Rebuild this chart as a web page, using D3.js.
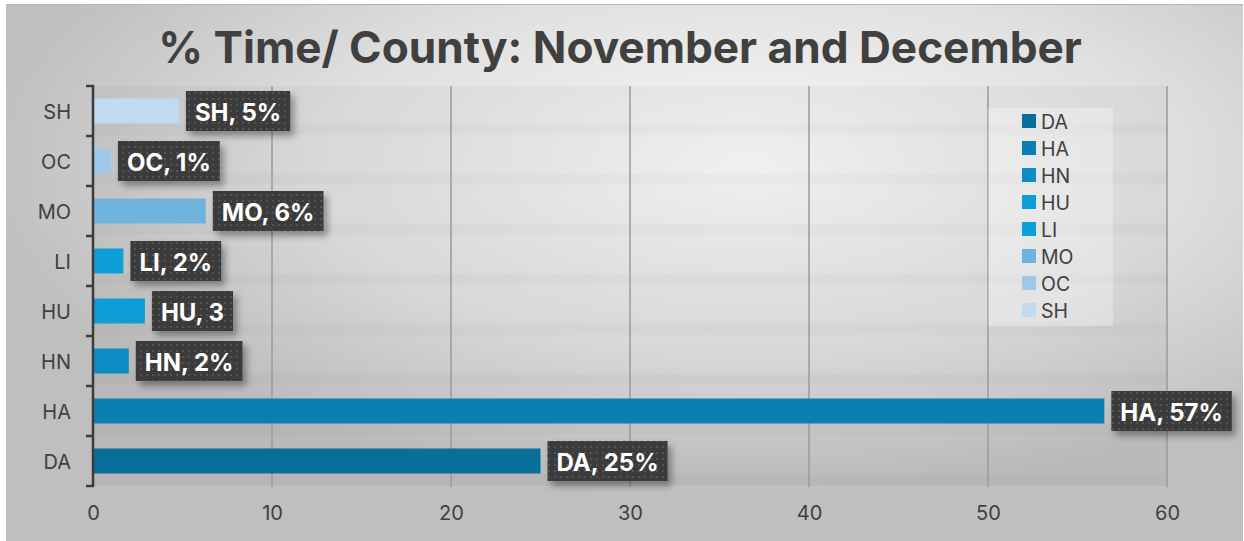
<!DOCTYPE html>
<html>
<head>
<meta charset="utf-8">
<script src="https://cdn.jsdelivr.net/npm/d3@7"></script>
<style>
  html, body { margin: 0; padding: 0; background: #fff; }
  svg { display: block; }
</style>
</head>
<body>
<svg id="chart" width="1244" height="541"></svg>
<script>
// Share of time spent per county, November and December
const categories = ["DA", "HA", "HN", "HU", "LI", "MO", "OC", "SH"];
const values     = [25, 56.5, 2, 2.9, 1.7, 6.3, 1, 4.8];
const suffixes   = ["%", "%", "%", "", "%", "%", "%", "%"];
const colors     = ["#076f98", "#0a80b0", "#0c8cc3", "#0e9dd7", "#0e9ed8", "#70b2de", "#a0c8e9", "#c1daee"];
const xTicks     = [0, 10, 20, 30, 40, 50, 60];
const titleText  = "% Time/ County: November and December";

const FONT = "Inter, 'Noto Sans', sans-serif";
const svg = d3.select("#chart");
const W = 1244, H = 541;
const defs = svg.append("defs");

// panel background: soft radial light
const bg = defs.append("radialGradient").attr("id", "bgGrad")
  .attr("cx", 0.6).attr("cy", 0.3).attr("r", 0.62);
bg.append("stop").attr("offset", 0).attr("stop-color", "#f8f8f8");
bg.append("stop").attr("offset", 0.55).attr("stop-color", "#e0e0e0");
bg.append("stop").attr("offset", 1).attr("stop-color", "#bfbfbf");

// dotted fill for the value callouts
const pat = defs.append("pattern").attr("id", "dots")
  .attr("width", 6).attr("height", 6).attr("patternUnits", "userSpaceOnUse");
pat.append("rect").attr("width", 6).attr("height", 6).attr("fill", "#3b3b3b");
pat.append("rect").attr("x", 2).attr("y", 2).attr("width", 2).attr("height", 2).attr("fill", "#525252");

const shadow = defs.append("filter").attr("id", "shadow")
  .attr("x", "-20%").attr("y", "-30%").attr("width", "150%").attr("height", "180%");
shadow.append("feDropShadow").attr("dx", 4).attr("dy", 5).attr("stdDeviation", 3.5)
  .attr("flood-color", "#000").attr("flood-opacity", 0.35);

svg.append("rect").attr("x", 0).attr("y", 0).attr("width", W).attr("height", H).attr("fill", "#fff");
svg.append("rect").attr("x", 6).attr("y", 4).attr("width", W - 7).attr("height", H - 4)
  .attr("fill", "url(#bgGrad)");
svg.append("line").attr("x1", 6).attr("x2", W - 1).attr("y1", 4.5).attr("y2", 4.5)
  .attr("stroke", "#b5b5b5").attr("stroke-width", 1);

const x = d3.scaleLinear().domain([0, 60]).range([93, 1167]);
const y = d3.scaleBand().domain(categories.slice().reverse())
  .range([86, 486]).paddingInner(0.5).paddingOuter(0.25);

// plot area tint
svg.append("rect").attr("x", 93).attr("y", 86).attr("width", x(60) - 93).attr("height", 400)
  .attr("fill", "#000").attr("opacity", 0.03);

// faint band shading beneath each bar
svg.append("g").selectAll("rect").data(categories).join("rect")
  .attr("x", 93).attr("width", x(60) - 93)
  .attr("y", d => y(d) + y.bandwidth())
  .attr("height", y.bandwidth() * 0.45)
  .attr("fill", "#000").attr("opacity", 0.02);

// vertical gridlines
svg.append("g").selectAll("line").data(xTicks.filter(t => t > 0)).join("line")
  .attr("x1", d => x(d)).attr("x2", d => x(d))
  .attr("y1", 86).attr("y2", 487)
  .attr("stroke", "#9a9a9a").attr("stroke-width", 1.5);

// bars
svg.append("g").selectAll("rect").data(categories).join("rect")
  .attr("x", x(0))
  .attr("y", d => y(d))
  .attr("width", (d, i) => x(values[i]) - x(0))
  .attr("height", y.bandwidth())
  .attr("fill", (d, i) => colors[i]);

// category axis drawn as a bracket with ticks at band boundaries
const axisG = svg.append("g");
const bounds = d3.range(categories.length + 1).map(i => 86 + i * y.step());
axisG.append("line").attr("x1", 93).attr("x2", 93).attr("y1", 85).attr("y2", 487)
  .attr("stroke", "#3c3c3c").attr("stroke-width", 2.5);
axisG.selectAll("line.tk").data(bounds).join("line").attr("class", "tk")
  .attr("x1", 86).attr("x2", 94).attr("y1", d => d).attr("y2", d => d)
  .attr("stroke", "#3c3c3c").attr("stroke-width", 2.5);
axisG.selectAll("text").data(categories).join("text")
  .attr("x", 71).attr("y", d => y(d) + y.bandwidth() / 2 + 1)
  .attr("text-anchor", "end").attr("dominant-baseline", "central")
  .attr("font-family", FONT).attr("font-size", 20)
  .attr("fill", "#404040").text(d => d);

// value axis labels
const xAxis = d3.axisBottom(x).tickValues(xTicks).tickSize(0).tickPadding(0);
const xg = svg.append("g").attr("transform", "translate(0,506)").call(xAxis);
xg.select(".domain").remove();
xg.selectAll("text")
  .attr("font-family", FONT).attr("font-size", 20)
  .attr("fill", "#404040").attr("dy", "0.71em");

// value callouts
const labelG = svg.append("g");
categories.forEach((c, i) => {
  const g = labelG.append("g");
  const cy = y(c) + y.bandwidth() / 2;
  const x0 = x(values[i]) + 7;
  const t = g.append("text")
    .attr("x", x0 + 9).attr("y", cy + 1)
    .attr("dominant-baseline", "central")
    .attr("font-family", FONT).attr("font-weight", 700)
    .attr("font-size", 24).attr("fill", "#fff")
    .text(`${c}, ${Math.round(values[i])}${suffixes[i]}`);
  const w = t.node().getComputedTextLength();
  g.insert("rect", "text")
    .attr("x", x0).attr("y", cy - 20).attr("width", w + 18).attr("height", 40)
    .attr("fill", "url(#dots)").attr("filter", "url(#shadow)");
});

// legend
const lg = svg.append("g");
lg.append("rect").attr("x", 988).attr("y", 108).attr("width", 125).attr("height", 218)
  .attr("fill", "#fff").attr("opacity", 0.3);
categories.forEach((c, i) => {
  const cy = 121 + i * 27;
  lg.append("rect").attr("x", 1022).attr("y", cy - 7).attr("width", 14).attr("height", 14)
    .attr("fill", colors[i]);
  lg.append("text").attr("x", 1041).attr("y", cy + 1).attr("dominant-baseline", "central")
    .attr("font-family", FONT).attr("font-size", 19.5)
    .attr("fill", "#404040").text(c);
});

// title, fitted to its span
const title = svg.append("text")
  .attr("x", 620).attr("y", 47).attr("text-anchor", "middle").attr("dominant-baseline", "central")
  .attr("font-family", FONT).attr("font-weight", 700)
  .attr("font-size", 40).attr("fill", "#404040").text(titleText);
const tw = title.node().getComputedTextLength();
title.attr("font-size", 40 * 924 / tw);
</script>
</body>
</html>
